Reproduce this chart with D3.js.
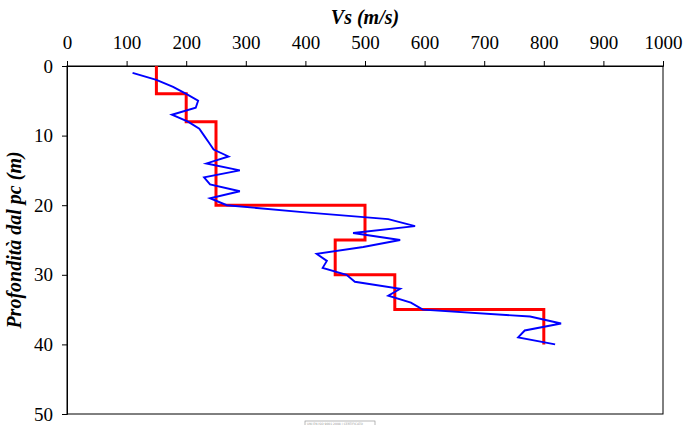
<!DOCTYPE html>
<html><head><meta charset="utf-8">
<script src="https://cdn.jsdelivr.net/npm/d3@7"></script>
<style>body{margin:0;background:#fff}svg{display:block}</style>
</head><body>
<svg id="c" width="684" height="425"></svg>
<script>
// Measured Vs profile (blue)
const depthMeas = [1,2,3,4,5,6,7,8,9,10,11,12,13,14,15,16,17,18,19,20,21,22,23,24,25,26,27,28,29,30,31,32,33,34,35,36,37,38,39,40];
const vsMeas = [110,150,178,200,220,216,176,203,222,230,238,246,271,234,290,230,240,290,240,268,395,539,584,480,559,497,419,436,429,469,483,559,539,577,597,777,829,768,757,819];
// Layer model (red step)
const layerTop = [0,4,8,20,25,30,35];
const layerBottom = [4,8,20,25,30,35,40];
const layerVs = [150,200,250,500,450,550,800];
const xTicks = [0,100,200,300,400,500,600,700,800,900,1000];
const yTicks = [0,10,20,30,40,50];

const svg = d3.select("#c");
const L=67,R=663,T=66,B=414;
const x = d3.scaleLinear().domain([0,1000]).range([L,R]);
const y = d3.scaleLinear().domain([0,50]).range([T,B]);
const font = "'Liberation Serif','Times New Roman',serif";

// frame
svg.append("rect").attr("x",L).attr("y",T).attr("width",R-L).attr("height",B-T)
  .attr("fill","none").attr("stroke","#000").attr("stroke-width",1);

const xa = svg.append("g").attr("transform",`translate(0,${T})`)
  .call(d3.axisTop(x).tickValues(xTicks).tickSize(5).tickPadding(12).tickFormat(d3.format("d")));
const ya = svg.append("g").attr("transform",`translate(${L},0)`)
  .call(d3.axisLeft(y).tickValues(yTicks).tickSize(5).tickPadding(9).tickFormat(d3.format("d")));
[xa,ya].forEach(g=>{
  g.select(".domain").attr("stroke","#000");
  g.selectAll(".tick line").attr("stroke","#000");
  g.selectAll("text").attr("font-family",font).attr("font-size",19).attr("fill","#000");
});

// red step line
const stepPts = [];
layerVs.forEach((v,i)=>{stepPts.push([v,layerTop[i]]);stepPts.push([v,layerBottom[i]]);});
const line = d3.line().x(d=>x(d[0])).y(d=>y(d[1]));
svg.append("path").datum(stepPts).attr("d",line).attr("fill","none")
  .attr("stroke","#ff0000").attr("stroke-width",3);

// blue measured line
svg.append("path").datum(depthMeas.map((d,i)=>[vsMeas[i],d])).attr("d",line)
  .attr("fill","none").attr("stroke","#0000ff").attr("stroke-width",1.9).attr("stroke-linejoin","miter");

// titles
svg.append("text").attr("x",(L+R)/2).attr("y",24).attr("text-anchor","middle")
  .attr("font-family",font).attr("font-size",20).attr("font-weight","bold").attr("font-style","italic")
  .text("Vs (m/s)");
svg.append("text").attr("transform",`translate(21,${(T+B)/2}) rotate(-90)`).attr("text-anchor","middle")
  .attr("font-family",font).attr("font-size",20).attr("font-weight","bold").attr("font-style","italic")
  .text("Profondità dal pc (m)");

// small stamp box at bottom
svg.append("rect").attr("x",305).attr("y",421).attr("width",70).attr("height",6)
  .attr("fill","#fff").attr("stroke","#888").attr("stroke-width",0.6);
svg.append("text").attr("x",307).attr("y",425).attr("font-family","'DejaVu Sans',sans-serif")
  .attr("font-size",3).attr("fill","#999").text("UNI EN ISO 9001:2008  |  CERTIFICATO");
</script>
</body></html>
